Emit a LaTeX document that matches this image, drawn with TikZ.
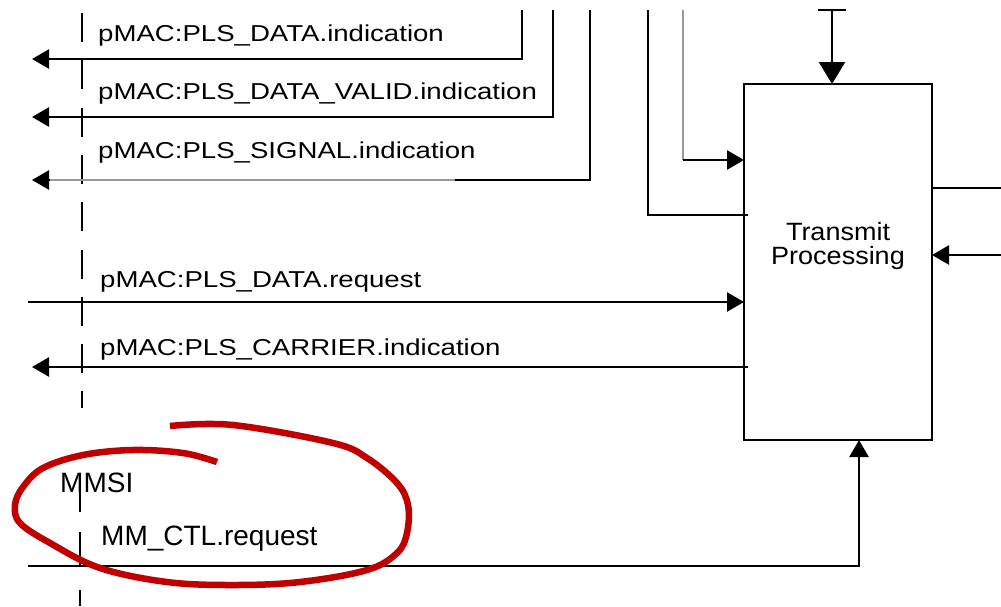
\documentclass[tikz,border=0pt]{standalone}
\usepackage{fontspec}
\setmainfont{Liberation Sans}
\newfontfamily\lblfont{Liberation Sans}[FakeStretch=1.2]
\newfontfamily\boxfont{Liberation Sans}[FakeStretch=1.08]
\usetikzlibrary{arrows.meta}
\definecolor{ringred}{RGB}{192,0,0}
\tikzset{
  wire/.style={line width=2.6pt},
  sig/.style={wire,-{Triangle[length=17pt,width=19pt]}},
  bigsig/.style={wire,-{Triangle[length=22pt,width=26pt]}},
  lbl/.style={anchor=base west,inner sep=0pt,font=\lblfont\fontsize{23}{27}\selectfont},
  mlbl/.style={anchor=base west,inner sep=0pt,font=\fontsize{28}{32}\selectfont},
  boundary/.style={line width=2.4pt},
  redring/.style={draw=ringred,line width=6.5pt}
}
\begin{document}
\begin{tikzpicture}[x=1pt,y=-1pt]
\useasboundingbox (0,0) rectangle (1001,606);
\node[draw,wire,minimum width=188pt,minimum height=356pt,inner sep=0pt,outer sep=0pt,anchor=north west] (tx) at (744,84) {};
\node[align=center,inner sep=0pt,font=\boxfont\fontsize{25}{24.5}\selectfont] (txlabel) at (838,246) {Transmit\\Processing};
\coordinate (dind) at (522,10);
\coordinate (vind) at (553,10);
\coordinate (sind) at (590,10);
\coordinate (feedA) at (648,10);
\coordinate (feedB) at (683,10);
\coordinate (feedC) at (832,10);
\coordinate (dindL) at (32,59);
\coordinate (vindL) at (32,117);
\coordinate (sindL) at (32,180);
\coordinate (feedAk) at (748,215);
\coordinate (feedBk) at (683,160);
\coordinate (reqL) at (28,302);
\coordinate (carL) at (32,367);
\coordinate (outR) at (1001,188);
\coordinate (inR) at (1001,255);
\coordinate (ctlL) at (28,566);
\coordinate (dashT) at (82,13);
\coordinate (dashM) at (82,408);
\coordinate (dashN) at (80,492);
\coordinate (dashB) at (80,606);
\draw[boundary,dash pattern=on 29pt off 18.3pt] (dashT) -- (dashM);
\draw[boundary,dash pattern=on 20pt off 20pt on 33pt off 25pt] (dashN) -- (dashB);
\draw[sig] (dind) |- (dindL);
\draw[sig] (vind) |- (vindL);
\draw[sig] (sind) |- (sindL);
\draw[wire,black!40] (50,180) -- (455,180);
\draw[wire] (feedA) |- (feedAk);
\draw[wire,black!40] (feedB) -- (feedBk);
\draw[sig] (feedBk) -- (feedBk -| tx.west);
\draw[bigsig] (feedC) -- (feedC |- tx.north);
\draw[wire] ([xshift=-14pt]feedC) -- ([xshift=14pt]feedC);
\draw[sig] (reqL) -- (reqL -| tx.west);
\draw[sig] ([xshift=4pt]tx.west |- carL) -- (carL);
\draw[wire] (outR -| tx.east) -- (outR);
\draw[sig] (inR) -- (inR -| tx.east);
\draw[sig] (ctlL) -| ([xshift=21pt]tx.south);
\node[lbl] (ldind) at (98,41) {pMAC:PLS\_DATA.indication};
\node[lbl] (lvind) at (98,99) {pMAC:PLS\_DATA\_VALID.indication};
\node[lbl] (lsind) at (98,158) {pMAC:PLS\_SIGNAL.indication};
\node[lbl] (lreq) at (100,287) {pMAC:PLS\_DATA.request};
\node[lbl] (lcar) at (100,355) {pMAC:PLS\_CARRIER.indication};
\node[mlbl] (lmmsi) at (60,492) {MMSI};
\node[mlbl] (lctl) at (101,545) {MM\_CTL.request};
\draw[redring] plot[smooth,tension=0.6] coordinates {(170,426) (233,425) (333,443) (367,458) (397,483) (408,505) (407,533) (397,553) (367,570) (300,582) (233,585) (167,582) (100,568) (50,543) (20,523) (15,505) (23,487) (43,468) (83,455) (133,450) (183,453) (217,462)};
\end{tikzpicture}
\end{document}
